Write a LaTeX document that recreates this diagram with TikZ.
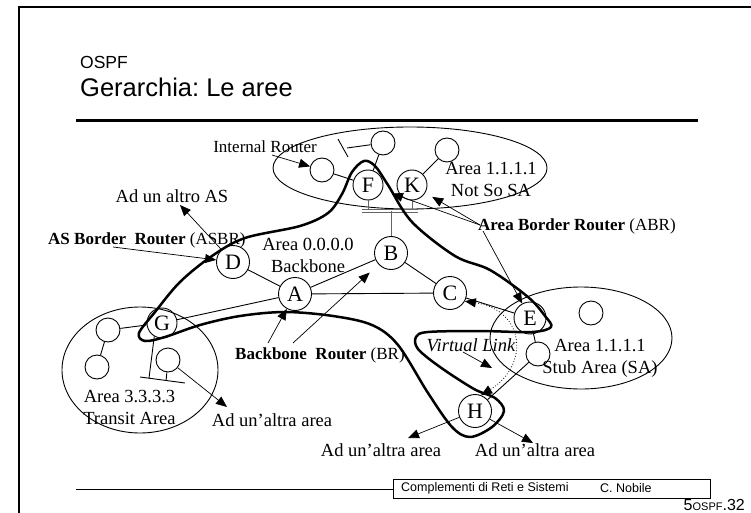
\documentclass[tikz,border=0pt]{standalone}
\usepackage{fontspec}
\setmainfont{Liberation Serif}
\setsansfont{Liberation Sans}
\usetikzlibrary{arrows.meta,calc,positioning}

\newcommand{\lblsize}{\fontsize{18.5}{22}\selectfont}
\newcommand{\irsize}{\fontsize{17}{20}\selectfont}
\newcommand{\rtsize}{\fontsize{22}{22}\selectfont}

\tikzset{
  router/.style={circle,draw,line width=0.9pt,inner sep=0pt,minimum size=33pt,font=\rtsize},
  host/.style={circle,draw,line width=0.9pt,inner sep=0pt,minimum size=24pt},
  lbl/.style={inner sep=0pt,font=\lblsize,align=center},
  link/.style={line width=0.9pt},
  ptr/.style={line width=0.7pt,-{Triangle[length=11pt,width=9pt]}},
  area/.style={draw,line width=0.9pt},
  border/.style={line width=2.5pt,line join=round},
  busbar/.style={draw=black!60,line width=0.8pt,double distance=1.5pt},
}

\begin{document}
\begin{tikzpicture}[x=1pt,y=-1pt]
  \useasboundingbox (0,0) rectangle (751,513);

  % slide frame and header
  \draw[line width=2pt] (19,513) -- (19,7.5) -- (751,7.5);
  \node[anchor=base west,inner sep=0pt,font=\sffamily\fontsize{17.5}{20}\selectfont] (sect) at (80,69) {OSPF};
  \node[anchor=base west,inner sep=0pt,font=\sffamily\fontsize{25.5}{28}\selectfont] (title) at (80,97) {Gerarchia:\ Le aree};
  \draw[line width=3pt] (76,121) -- (698,121);

  % the three areas
  \draw[area] (410,168) ellipse (137 and 41); % not so stub
  \draw[area] (581,338) ellipse (91 and 51);  % stub
  \draw[area] (140,370) ellipse (78 and 63);  % transit

  % routers
  \node[router] (A) at (295,294) {A};
  \node[router] (B) at (391,253) {B};
  \node[router] (C) at (450,293) {C};
  \node[router] (D) at (233,262) {D};
  \node[router,minimum size=32pt] (E) at (530,318) {E};
  \node[router,minimum size=30pt] (F) at (368,185) {F};
  \node[router,minimum size=30pt] (K) at (412,185) {K};
  \node[router,minimum size=30pt] (G) at (162,323) {G};
  \node[router] (H) at (475,411) {H};

  % hosts
  \node[host] (ir) at (322,170) {};
  \node[host] (nt) at (383,143) {};
  \node[host] (nk) at (447,150) {};
  \node[host] (t1) at (108,330) {};
  \node[host] (t2) at (97,367) {};
  \node[host] (t3) at (168,360) {};
  \node[host] (s1) at (538,354) {};
  \node[host] (s2) at (591,313) {};

  % links
  \draw[link] (D) -- (A);
  \draw[link] (A) -- (B);
  \draw[link] (A) -- (C);
  \draw[link] (B) -- (C);
  \draw[link] (A) -- (G);
  \draw[link] (C) -- (E);
  \draw[link] (E) -- (s1);
  \draw[link] (s1) -- (H);
  \draw[link] (ir) -- (F);
  \draw[link] (nt) -- (F);
  \draw[link] (K) -- (nk);
  \draw[link] (t1) -- (G);
  \draw[link] (t1) -- (t2);

  % bus between F, K and B
  \coordinate (busl) at (362,211);
  \coordinate (busr) at (418,211);
  \draw[link,black!60] (F.south) -- (F.south |- busl);
  \draw[link,black!60] (K.south) -- (K.south |- busl);
  \draw[busbar] (busl) -- (busr);
  \draw[link,black!60] (B.north |- busl) -- (B.north);

  % terminated segment
  \coordinate (ntend) at (347,148);
  \draw[link] (nt) -- (ntend);
  \draw[link] ($(ntend)+(-9,-9)$) -- ($(ntend)+(1,9)$);

  % transit bus
  \coordinate (tbl) at (140,377);
  \coordinate (tbr) at (185,383);
  \draw[link] (G.-120) -- ($(tbl)!0.2!(tbr)$);
  \draw[link] (tbl) -- (tbr);
  \draw[link] (t3) -- ($(tbl)!0.58!(tbr)$);

  % backbone boundary
  \draw[border] plot[smooth cycle,tension=0.55] coordinates {
    (364,161) (352,172) (342,194) (328,213) (300,226) (245,238) (212,256)
    (180,282) (155,312) (139,333) (145,341) (165,337) (200,325) (240,316)
    (285,312) (333,316) (372,325) (398,345) (428,393) (452,427) (470,437)
    (492,427) (504,411) (495,398) (474,389) (440,367) (418,349) (416,337)
    (428,332) (480,331) (532,332) (551,327) (545,316) (528,297) (490,270)
    (455,256) (412,222) (388,185) (375,166)};

  % virtual link
  \draw[line width=0.8pt,dotted,{Triangle[length=11pt,width=9pt]}-{Triangle[length=11pt,width=9pt]}]
    (C.-29) .. controls (525,310) and (530,365) .. (H.69);

  % labels
  \node[lbl,font=\irsize] (irlbl) at (265,147) {Internal Router};
  \node[lbl] (aslbl) at (172,196) {Ad un altro AS};
  \node[lbl,font=\irsize,anchor=west] (asbrlbl) at (48,240) {\textbf{AS Border\ \ Router} (ASBR)};
  \node[lbl] (bblbl) at (308,255.5) {Area 0.0.0.0\\Backbone};
  \node[lbl] (nsalbl) at (491,179.5) {Area 1.1.1.1\\Not So SA};
  \node[lbl,font=\irsize,anchor=west] (abrlbl) at (478,226) {\textbf{Area Border Router} (ABR)};
  \node[lbl,font=\irsize,anchor=west] (brlbl) at (235,355) {\textbf{Backbone\ \ Router} (BR)};
  \node[lbl,font=\itshape\lblsize] (vllbl) at (471,345) {Virtual Link};
  \node[lbl] (salbl) at (600,358.5) {Area 1.1.1.1\\Stub Area (SA)};
  \node[lbl] (talbl) at (129.5,407.5) {Area 3.3.3.3\\Transit Area};
  \node[lbl] (ad1) at (272,420) {Ad un’altra area};
  \node[lbl] (ad2) at (381,450) {Ad un’altra area};
  \node[lbl] (ad3) at (535,450) {Ad un’altra area};

  % pointers
  \coordinate (irtail) at (272,155);
  \draw[ptr] (irtail) -- (ir);
  \coordinate (asrtip) at (180,205);
  \draw[ptr] (D) -- (asrtip);
  \coordinate (asbrtail) at (113,247);
  \draw[ptr] (asbrtail) -- (D);
  \coordinate (abrtail) at (480,225);
  \draw[ptr,shorten >=10pt] (abrtail) -- (F);
  \draw[ptr,shorten >=8pt] (abrtail) -- (K);
  \coordinate (abrtail2) at (483,231);
  \draw[ptr] (abrtail2) -- (E);
  \coordinate (brtail1) at (268,343);
  \coordinate (brtail2) at (293,343);
  \draw[ptr] (brtail1) -- (A);
  \draw[ptr,shorten >=12pt] (brtail2) -- (B);
  \coordinate (vltail) at (463,352);
  \coordinate (vltip) at (492,368);
  \draw[ptr] (vltail) -- (vltip);
  \coordinate (ttip) at (227,407);
  \draw[ptr] (t3) -- (ttip);
  \coordinate (hltip) at (408,438);
  \coordinate (hrtip) at (533,443);
  \draw[ptr] (H) -- (hltip);
  \draw[ptr] (H) -- (hrtip);

  % footer
  \draw[line width=0.8pt] (76,489) -- (393,489);
  \node[draw,line width=0.8pt,anchor=north west,minimum width=317pt,minimum height=19pt,inner sep=0pt] (foot) at (393,479) {};
  \node[anchor=west,inner sep=0pt,font=\sffamily\fontsize{12.5}{14}\selectfont] (course) at (401,488.5) {Complementi di Reti e Sistemi};
  \node[anchor=west,inner sep=0pt,font=\sffamily\fontsize{12.5}{14}\selectfont] (author) at (600,488.5) {C. Nobile};
  \node[anchor=base east,inner sep=0pt,font=\sffamily\fontsize{16}{18}\selectfont] (pg) at (745,510) {5{\fontsize{11}{12}\selectfont OSPF}.32};
\end{tikzpicture}
\end{document}
